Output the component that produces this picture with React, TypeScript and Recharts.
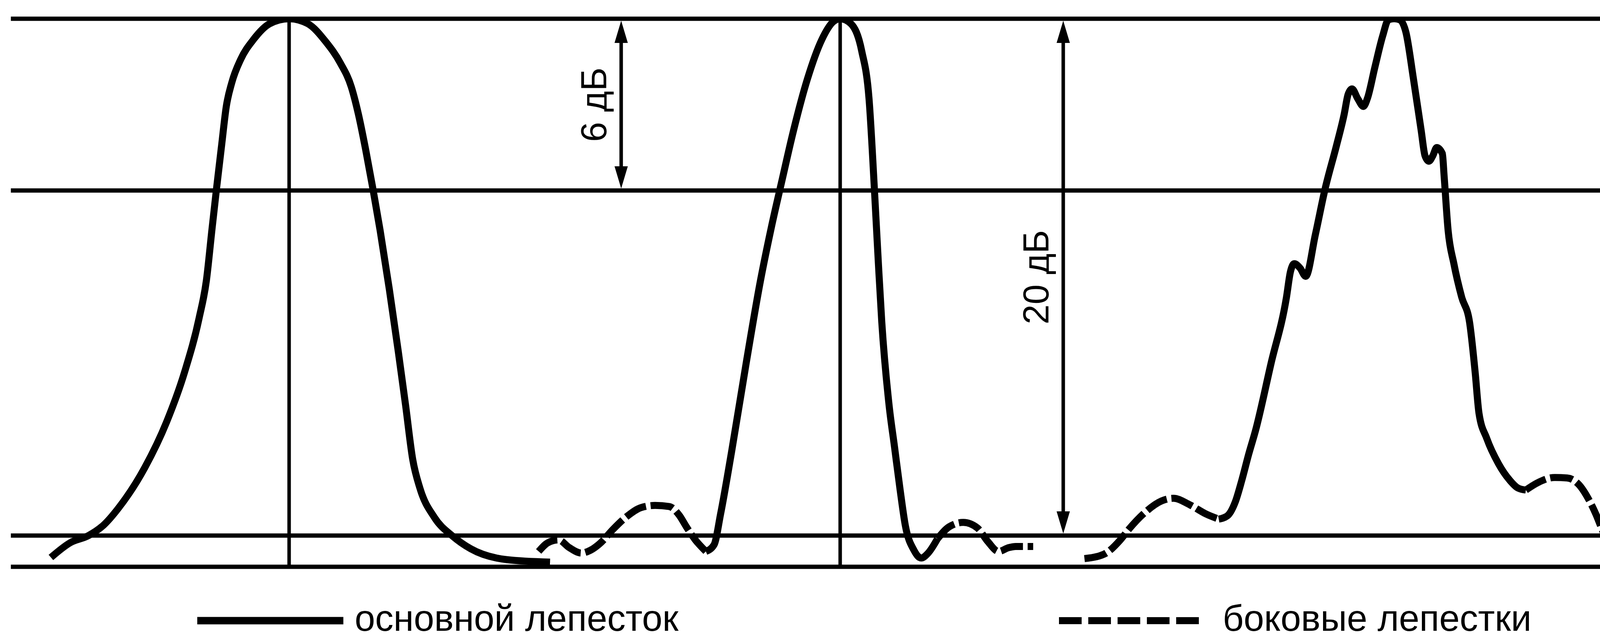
import React from 'react';
import { ComposedChart, Line, XAxis, YAxis, ReferenceLine, Legend } from 'recharts';

type Pt = { x: number; y: number };
const pts = (rows: number[][]): Pt[] => rows.map(([x, y]) => ({ x, y }));

// x: angle units (0..1000), y: relative level (0 = floor line, 100 = peak level)
const lobe1Main = pts([
  [30, 1.7], [41.4, 4.4], [52.2, 5.7], [61, 7.6], [69.5, 10.6], [85.3, 18.1], [98.1, 26.4],
  [108.8, 35.6], [117.3, 45.4], [121.6, 52.3], [124.8, 61.4], [127.5, 68.9], [130.5, 76.8],
  [133.3, 84], [136.5, 88.3], [141.8, 92.6], [149.3, 96.2], [158.9, 99.1], [170.3, 100],
  [181.3, 99.1], [191.9, 95.8], [200.5, 91.9], [206.9, 87.6], [211.1, 82.6], [215.4, 76.1],
  [219.7, 68.9], [223.9, 61.4], [229.3, 50.7], [234.6, 39.3], [238.9, 29.5], [243.1, 19.6],
  [247.4, 14.3], [255.9, 9], [266.6, 5.6], [277.2, 3.3], [298.6, 1.3], [324, 0.85],
]);

const lobe2SideLeft = pts([
  [317.3, 2.8], [322.8, 4.4], [329, 4.9], [335.3, 3.5], [342.4, 2.5], [347.7, 3], [353.9, 4.4],
  [361, 6.8], [369.3, 9.2], [377.6, 10.8], [385.9, 11.2], [394.2, 11], [400.1, 9.4],
  [404.3, 7.3], [409.6, 4.9], [415.8, 2.8],
]);

const lobe2Main = pts([
  [415.8, 2.8], [420.6, 4], [424.5, 9.7], [431, 21.1], [439.5, 37.1], [448, 52.3], [454.4, 62],
  [460.7, 70.6], [467.1, 79.2], [475.6, 89], [484.1, 96.2], [490.6, 99.4], [494.9, 100],
  [501.2, 99.1], [507.6, 94.1], [511.9, 85.4], [515.1, 68.7], [517.3, 56], [519.4, 44.7],
  [523.7, 29.5], [526.9, 21.9], [530.1, 14.3], [533.3, 7.5], [538.4, 3], [542.6, 1.6],
  [546.7, 2.5], [552.2, 5.1],
]);

const lobe2SideRight = pts([
  [552.2, 5.1], [559.1, 7.3], [567.4, 8.1], [575.7, 7.1], [581.9, 4.6], [588.1, 2.8],
  [594.3, 3.5], [598.3, 3.7], [608.6, 3.7],
]);

const lobe3SideLeft = pts([
  [638.8, 1.5], [650.3, 2.3], [659.9, 4.9], [664.8, 6.8], [674.4, 9.9], [684.1, 12],
  [691.2, 12.5], [700.9, 11.3], [710.6, 9.6], [717.9, 8.7],
]);

const lobe3Main = pts([
  [717.9, 8.7], [723, 9.3], [727.6, 11.8], [731.5, 15.8], [735.5, 20.5], [739.6, 24.9],
  [748.7, 37.1], [757.8, 49.2], [760.1, 53.8], [762.4, 55.3], [765.8, 54.5], [769.1, 53],
  [774.8, 60.6], [780.5, 68.9], [787.2, 76.8], [791.8, 82.6], [794.1, 86.2], [796.4, 87.2],
  [799.8, 85.4], [803.1, 84], [805.4, 85.4], [809.9, 91.2], [814.5, 96.9], [817.8, 99.8],
  [821.2, 100], [824.6, 99.8], [828.1, 97.6], [832.6, 89], [837.1, 79.7], [839.4, 75],
  [841.7, 74], [844, 75], [846.3, 76.5], [849.6, 75.4], [850.7, 71.1], [853, 61.4],
  [856.4, 55.3], [861, 49.2], [865.6, 44.7], [868.9, 35.6], [871.2, 28], [875.8, 23.4],
  [882.7, 18.8], [889.3, 15.8], [894, 14.4], [898.8, 14],
]);

const lobe3SideRight = pts([
  [898.8, 14], [905.5, 15.3], [915.8, 16.3], [923.2, 16.2], [930.3, 14.9], [935.1, 12.7],
  [940.2, 9.5], [943.4, 7.05], [946.9, 4.77], [951, 4.27], [957.2, 3.49], [964.1, 4.06],
  [968, 4.91], [972.6, 7.05], [977.9, 7.98], [981.8, 8.12], [987.1, 7.48], [991.7, 5.84],
  [997, 4.2], [1000, 2.8],
]);

// horizontal level lines: 0 dB, -6 dB, -20 dB, floor
const levelLines = [
  { level: 100, from: 6.4, to: 978.6 },
  { level: 68.66, from: 6.4, to: 978.6 },
  { level: 5.7, from: 6.4, to: 978.6 },
  { level: 0, from: 6.4, to: 1000 },
];

const peakAxes = [170.3, 494.9];

const spans = [
  { x: 365.9, from: 100, to: 68.66, label: '6 дБ' },
  { x: 626.3, from: 100, to: 5.7, label: '20 дБ' },
];

const legendItems = ['основной лепесток', 'боковые лепестки'];

const FONT = '"Liberation Sans", Arial, Helvetica, sans-serif';
const DASH = '58 12';
const CURVE_W = 18;
const LEGEND_TOP = 1520;
const LEGEND_H = 117;

const spanShape = (label: string) => (props: any) => {
  const { x1, y1, y2 } = props;
  const top = Math.min(y1, y2) + 5;
  const bottom = Math.max(y1, y2) - 5;
  const head = 57;
  const half = 17;
  const cy = (top + bottom) / 2;
  const tx = x1 - 38;
  return (
    <g>
      <line x1={x1} y1={top + head - 4} x2={x1} y2={bottom - head + 4} stroke="#000" strokeWidth={9} />
      <polygon points={`${x1},${top} ${x1 - half},${top + head} ${x1 + half},${top + head}`} fill="#000" />
      <polygon points={`${x1},${bottom} ${x1 - half},${bottom - head} ${x1 + half},${bottom - head}`} fill="#000" />
      <text
        x={tx}
        y={cy}
        transform={`rotate(-90 ${tx} ${cy})`}
        textAnchor="middle"
        fontSize={92}
        fontFamily={FONT}
        fill="#000"
      >
        {label}
      </text>
    </g>
  );
};

const renderLegend = () => (
  <svg width={4346} height={LEGEND_H} style={{ display: 'block' }}>
    <line x1={505} y1={70} x2={879} y2={70} stroke="#000" strokeWidth={19} />
    <text x={908} y={96} fontSize={94} fontFamily={FONT} fill="#000">{legendItems[0]}</text>
    <line x1={2711} y1={70} x2={3071} y2={70} stroke="#000" strokeWidth={18} strokeDasharray="58 17" />
    <text x={3130} y={96} fontSize={94} fontFamily={FONT} fill="#000">{legendItems[1]}</text>
  </svg>
);

const series = [
  { key: 'l1', data: lobe1Main, dashed: false, name: legendItems[0], legend: true },
  { key: 'l2s', data: lobe2SideLeft, dashed: true, name: legendItems[1], legend: true },
  { key: 'l2', data: lobe2Main, dashed: false, name: 'l2', legend: false },
  { key: 'l2r', data: lobe2SideRight, dashed: true, name: 'l2r', legend: false },
  { key: 'l3s', data: lobe3SideLeft, dashed: true, name: 'l3s', legend: false },
  { key: 'l3', data: lobe3Main, dashed: false, name: 'l3', legend: false },
  { key: 'l3r', data: lobe3SideRight, dashed: true, name: 'l3r', legend: false },
];

export default function App() {
  return (
    <div style={{ position: 'absolute', left: 0, top: 0, width: 4346, height: 1637, background: '#fff' }}>
      <ComposedChart width={4346} height={1637} margin={{ top: 48, right: 0, bottom: 185 - LEGEND_H, left: 0 }}>
        <XAxis type="number" dataKey="x" domain={[0, 1000]} hide allowDataOverflow />
        <YAxis type="number" domain={[0, 100]} hide allowDataOverflow />
        {levelLines.map((l) => (
          <ReferenceLine
            key={`lvl-${l.level}`}
            segment={[{ x: l.from, y: l.level }, { x: l.to, y: l.level }]}
            stroke="#000"
            strokeWidth={11}
            ifOverflow="visible"
          />
        ))}
        {peakAxes.map((x) => (
          <ReferenceLine
            key={`peak-${x}`}
            segment={[{ x, y: 0 }, { x, y: 100 }]}
            stroke="#000"
            strokeWidth={9}
            ifOverflow="visible"
          />
        ))}
        {spans.map((s) => (
          <ReferenceLine
            key={`span-${s.label}`}
            segment={[{ x: s.x, y: s.from }, { x: s.x, y: s.to }]}
            ifOverflow="visible"
            shape={spanShape(s.label)}
          />
        ))}
        {series.map((s) => (
          <Line
            key={s.key}
            data={s.data}
            dataKey="y"
            name={s.name}
            type="monotone"
            stroke="#000"
            strokeWidth={CURVE_W}
            strokeDasharray={s.dashed ? DASH : undefined}
            dot={false}
            activeDot={false}
            legendType={s.legend ? 'line' : 'none'}
            isAnimationActive={false}
          />
        ))}
        <Legend
          verticalAlign="bottom"
          content={renderLegend}
          wrapperStyle={{ left: 0, top: LEGEND_TOP, bottom: 'auto', width: 4346, height: LEGEND_H, margin: 0, padding: 0 }}
        />
      </ComposedChart>
    </div>
  );
}
